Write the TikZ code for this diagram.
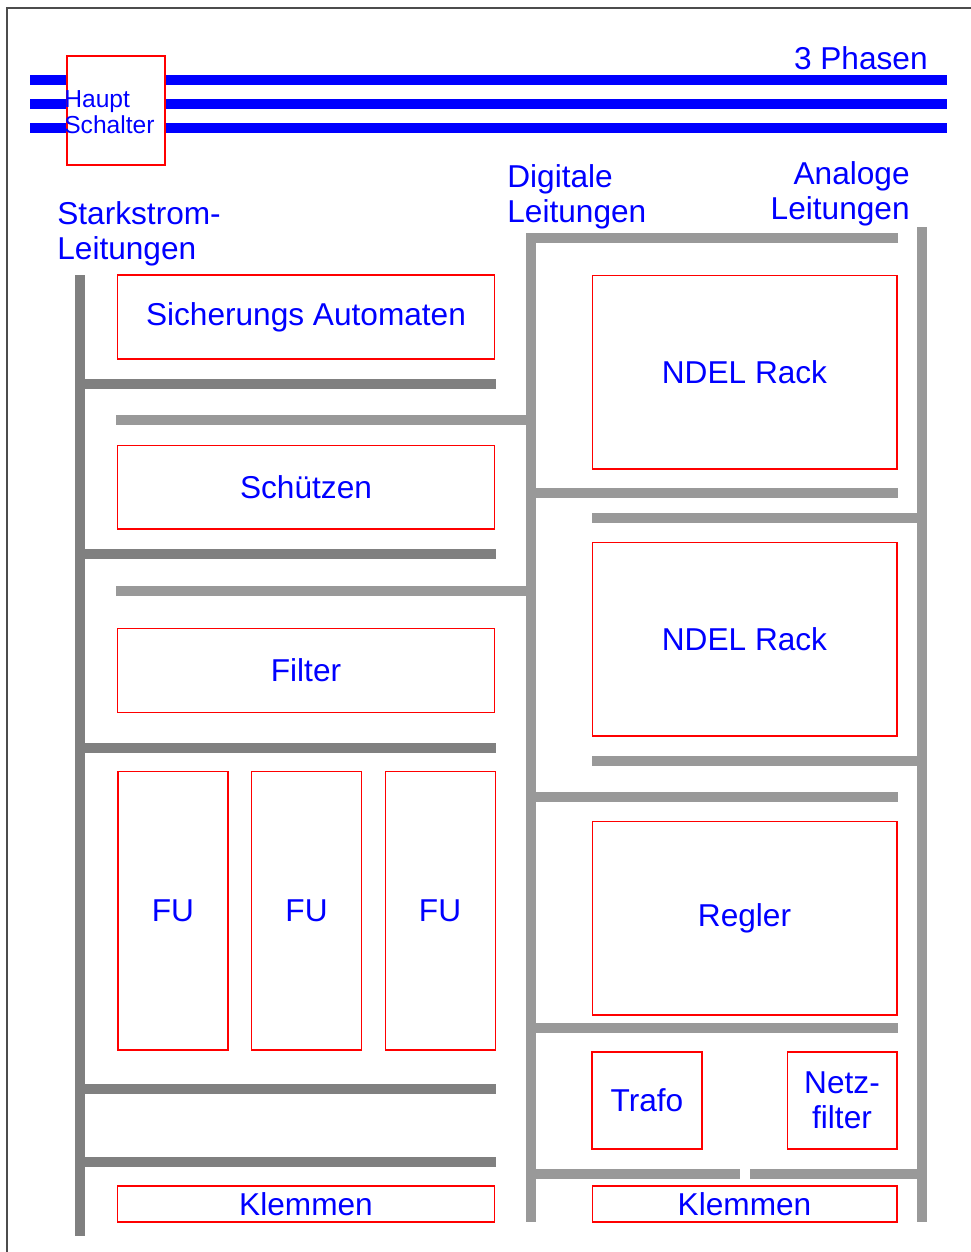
\documentclass[tikz,border=0pt]{standalone}
\usepackage{fontspec}
\setmainfont{Liberation Sans}
\usepackage{tikz}
\usetikzlibrary{positioning}
\tikzstyle{part}  = [rectangle, draw=red, line width=0.6pt, fill=white, text=blue, font=\fontsize{18}{20}\selectfont, inner sep=0pt, align=center]
\tikzstyle{wide}  = [part, minimum width=7.56cm, minimum height=1.68cm]
\tikzstyle{tall}  = [part, minimum width=2.2cm, minimum height=5.58cm]
\tikzstyle{big}   = [part, minimum width=6.1cm, minimum height=3.88cm]
\tikzstyle{small} = [part, minimum width=2.2cm, minimum height=1.94cm]
\tikzstyle{strip} = [part, minimum width=7.56cm, minimum height=0.72cm]
\tikzstyle{lbl}   = [text=blue, font=\fontsize{18}{20}\selectfont, inner sep=0pt]
\tikzstyle{hstxt} = [text=blue, font=\fontsize{14}{14.7}\selectfont, inner sep=0pt, align=left]
\tikzstyle{phase} = [blue, line width=6pt]
\tikzstyle{ductdark}  = [black!50, line width=5.7pt]
\tikzstyle{ductlight} = [black!40, line width=5.7pt]

\begin{document}
\begin{tikzpicture}[x=0.02cm, y=-0.02cm]
\useasboundingbox (0,0) rectangle (971,1252);
\draw [black!70, line width=0.6pt] (7,1252) -- (7,8) -- (971,8);

% Einspeisung
\foreach \y in {80,104,128}
  \draw [phase] (30,\y) -- (947,\y);
\node (hs) [part, minimum width=1.96cm, minimum height=2.18cm] at (116,110.5) {};
\node (hstext) [hstxt, anchor=west] at ([xshift=-0.05cm, yshift=-0.04cm]hs.west) {Haupt\\Schalter};
\node (phasen) [lbl, anchor=base east] at (928,69) {3 Phasen};

% Kabelkanaele
\node (stark) [lbl, anchor=north west, align=left] at (57,201) {Starkstrom-\\Leitungen};
\node (digi) [lbl, anchor=north west, align=left] at (507,164) {Digitale\\Leitungen};
\node (ana) [lbl, anchor=north east, align=right] at (910,161) {Analoge\\Leitungen};

\draw [ductdark] (80,275) -- (80,1236);
\foreach \y in {384,554,748,1089,1162}
  \draw [ductdark] (80,\y) -- (496,\y);
\draw [ductlight] (116,420) -- (531,420);
\draw [ductlight] (116,591) -- (531,591);
\draw [ductlight] (898,238) -- (531,238) -- (531,1222);
\draw [ductlight] (922,227) -- (922,1222);
\foreach \y in {493,797,1028}
  \draw [ductlight] (531,\y) -- (898,\y);
\foreach \y in {518,761}
  \draw [ductlight] (592,\y) -- (922,\y);
\draw [ductlight] (531,1174) -- (740,1174);
\draw [ductlight] (750,1174) -- (922,1174);

% Bauteile links
\node (sicher) [wide] at (306,317) {Sicherungs Automaten};
\node (schuetz) [wide, below=1.7cm of sicher] {Schützen};
\node (filter) [wide, below=1.96cm of schuetz] {Filter};
\node (fu1) [tall] at (173,910.5) {FU};
\node (fu2) [tall, right=0.45cm of fu1] {FU};
\node (fu3) [tall, right=0.45cm of fu2] {FU};
\node (klemL) [strip] at (306,1204) {Klemmen};

% Bauteile rechts
\node (rack1) [big] at (744.5,372) {NDEL Rack};
\node (rack2) [big, below=1.44cm of rack1] {NDEL Rack};
\node (regler) [big, below=1.68cm of rack2] {Regler};
\node (trafo) [small] at (647,1100.5) {Trafo};
\node (netz) [small, right=1.68cm of trafo] {Netz-\\filter};
\node (klemR) [strip, minimum width=6.1cm] at (744.5,1204) {Klemmen};
\end{tikzpicture}
\end{document}
